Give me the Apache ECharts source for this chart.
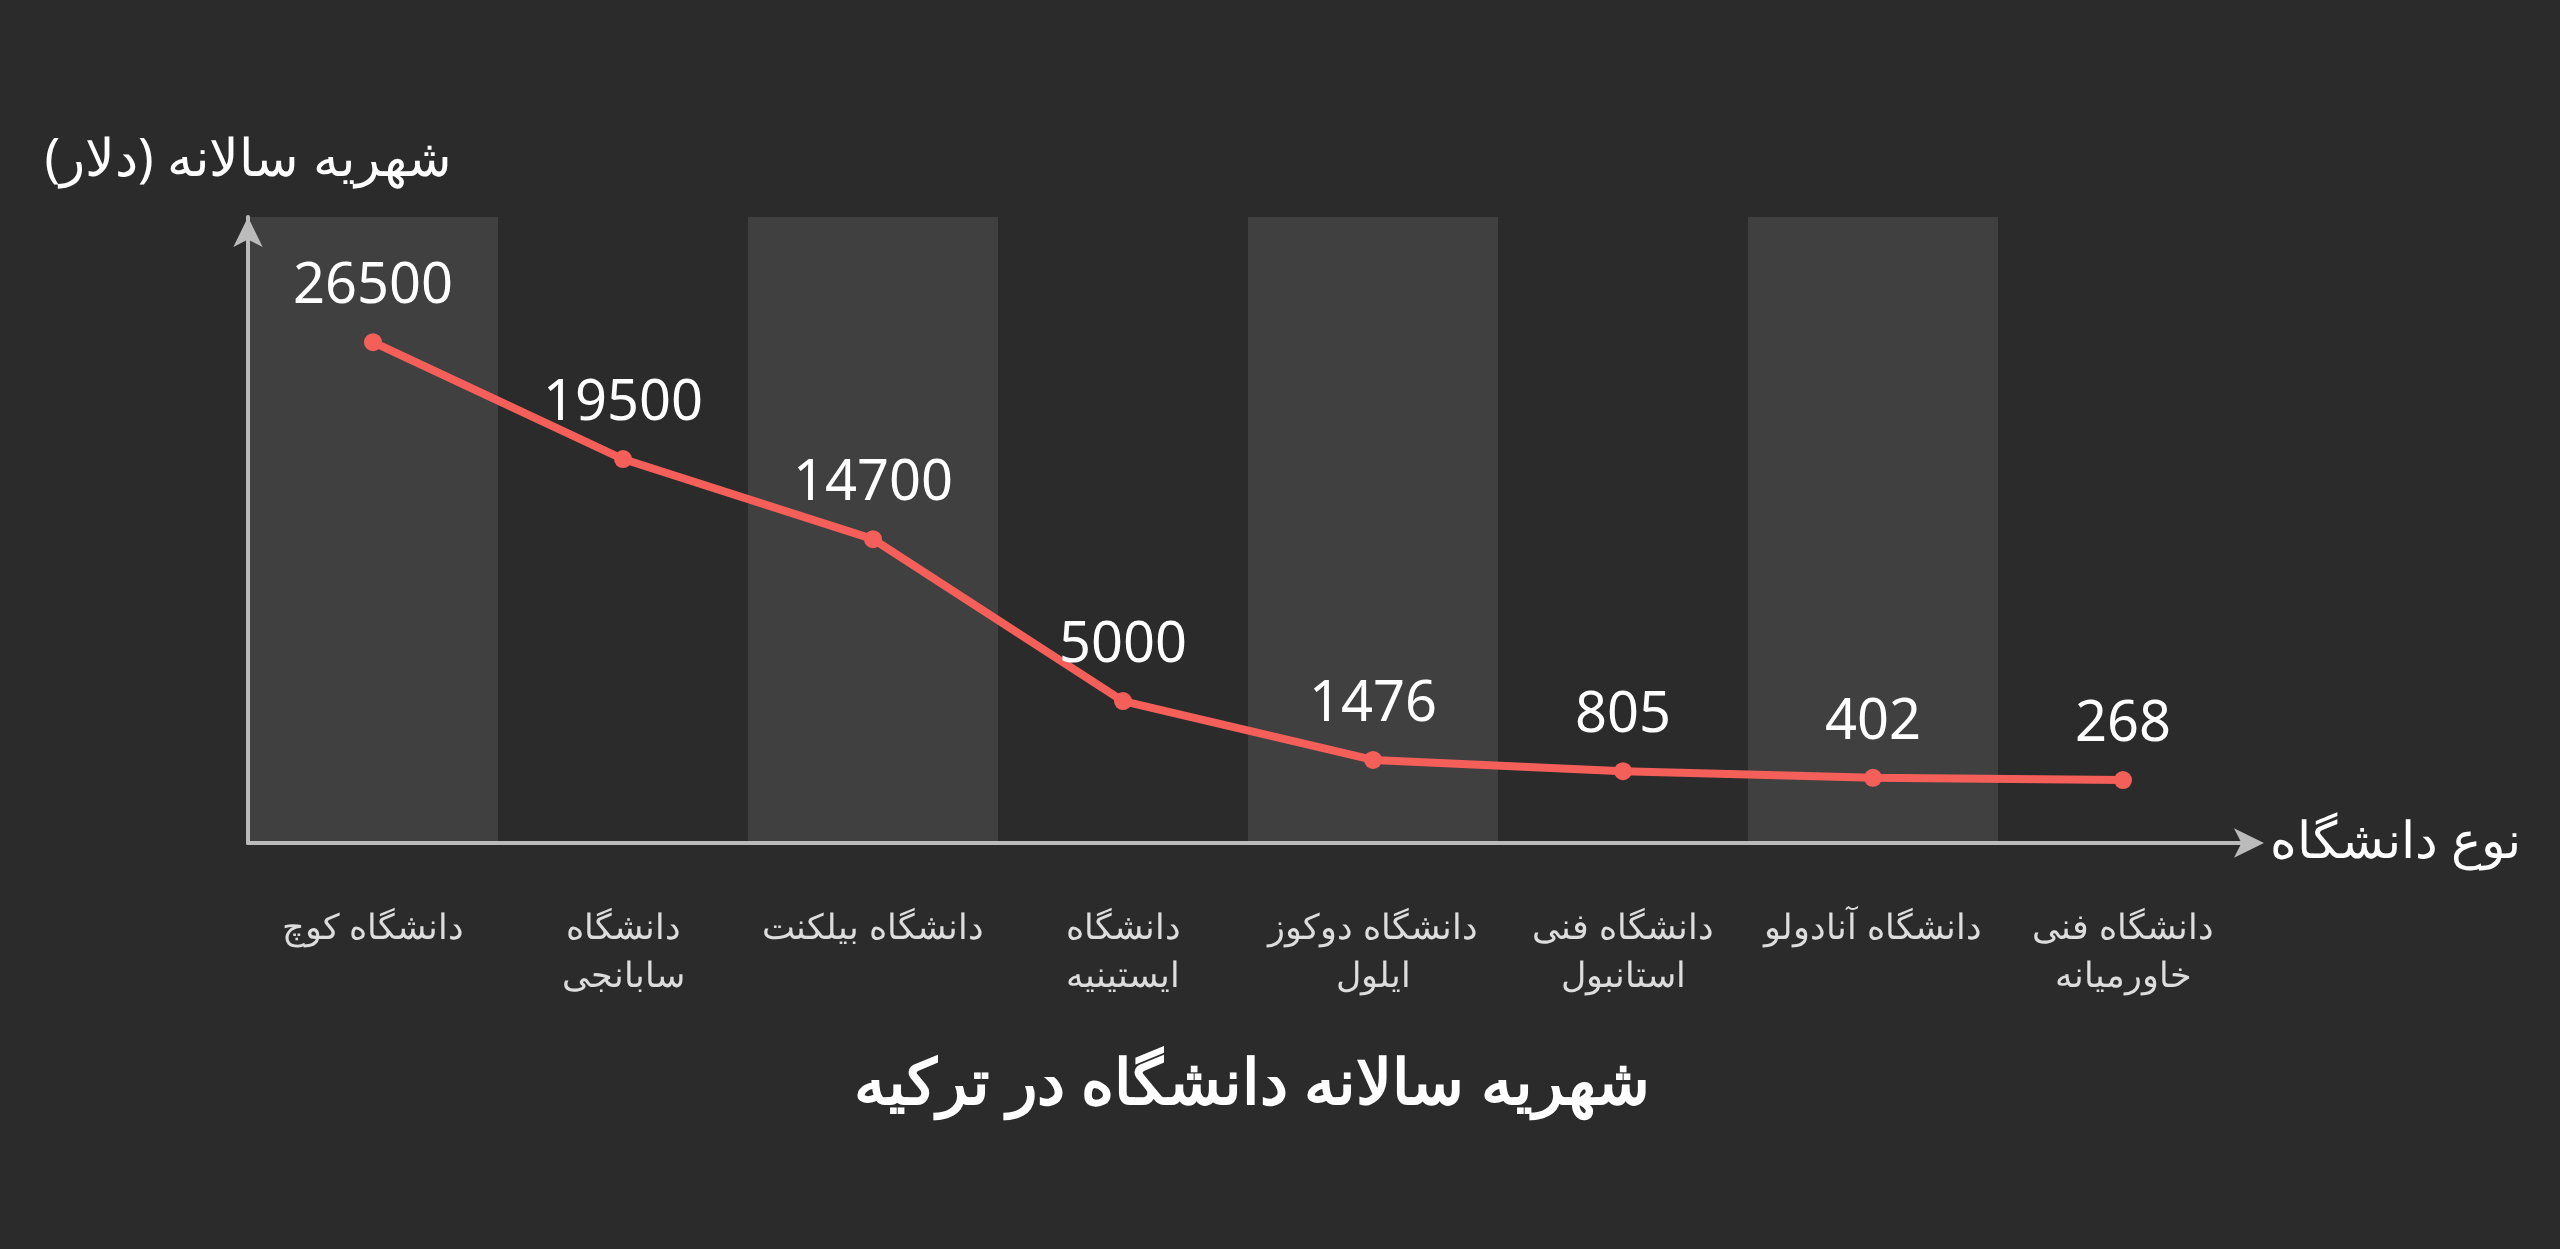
<!DOCTYPE html>
<html><head><meta charset="utf-8">
<script src="https://cdn.jsdelivr.net/npm/echarts@6/dist/echarts.min.js"></script>
<style>html,body{margin:0;background:#2b2b2b}#c{width:2560px;height:1249px}</style>
</head><body><div id="c"></div>
<script>
const categories = ["دانشگاه کوچ","دانشگاه\nسابانجی","دانشگاه بیلکنت","دانشگاه\nایستینیه","دانشگاه دوکوز\nایلول","دانشگاه فنی\nاستانبول","دانشگاه آنادولو","دانشگاه فنی\nخاورمیانه"];
const tuition = [26500,19500,14700,5000,1476,805,402,268];
const chart = echarts.init(document.getElementById('c'));
const font = "'Noto Sans', sans-serif";
chart.setOption({
  backgroundColor:'#2b2b2b',
  title:{text:'شهریه سالانه دانشگاه در ترکیه',left:1247,top:1050,textAlign:'center',
    textStyle:{color:'#fff',fontSize:63,fontWeight:'bold',fontFamily:font}},
  grid:{left:248,right:312,top:217,bottom:406},
  xAxis:{type:'category',data:categories,boundaryGap:true,
    name:'نوع دانشگاه',nameLocation:'end',nameGap:22,
    nameTextStyle:{color:'#fff',fontSize:51,fontFamily:font,align:'left'},
    axisLine:{show:true,onZero:false,symbol:['none','arrow'],symbolSize:[22,30],symbolOffset:[0,16],lineStyle:{color:'#bbb',width:4}},
    axisTick:{show:false},
    axisLabel:{color:'#ddd',fontSize:35,fontFamily:font,margin:62,lineHeight:48,interval:0},
    splitArea:{show:true,areaStyle:{color:['#404040','#2b2b2b']}}},
  yAxis:{type:'value',min:-3500,max:34000,
    name:'شهریه سالانه (دلار)',nameLocation:'end',nameGap:30,
    nameTextStyle:{color:'#fff',fontSize:52,fontFamily:font,align:'center'},
    axisLine:{show:true,symbol:['none','arrow'],symbolSize:[22,30],lineStyle:{color:'#bbb',width:4}},
    axisTick:{show:false},axisLabel:{show:false},splitLine:{show:false}},
  series:[{type:'line',data:tuition,symbol:'circle',symbolSize:18,
    lineStyle:{color:'#f45f5a',width:8},itemStyle:{color:'#f45f5a'},
    label:{show:true,position:'top',distance:18,color:'#fff',fontSize:56,fontFamily:font}}]
});
</script></body></html>
